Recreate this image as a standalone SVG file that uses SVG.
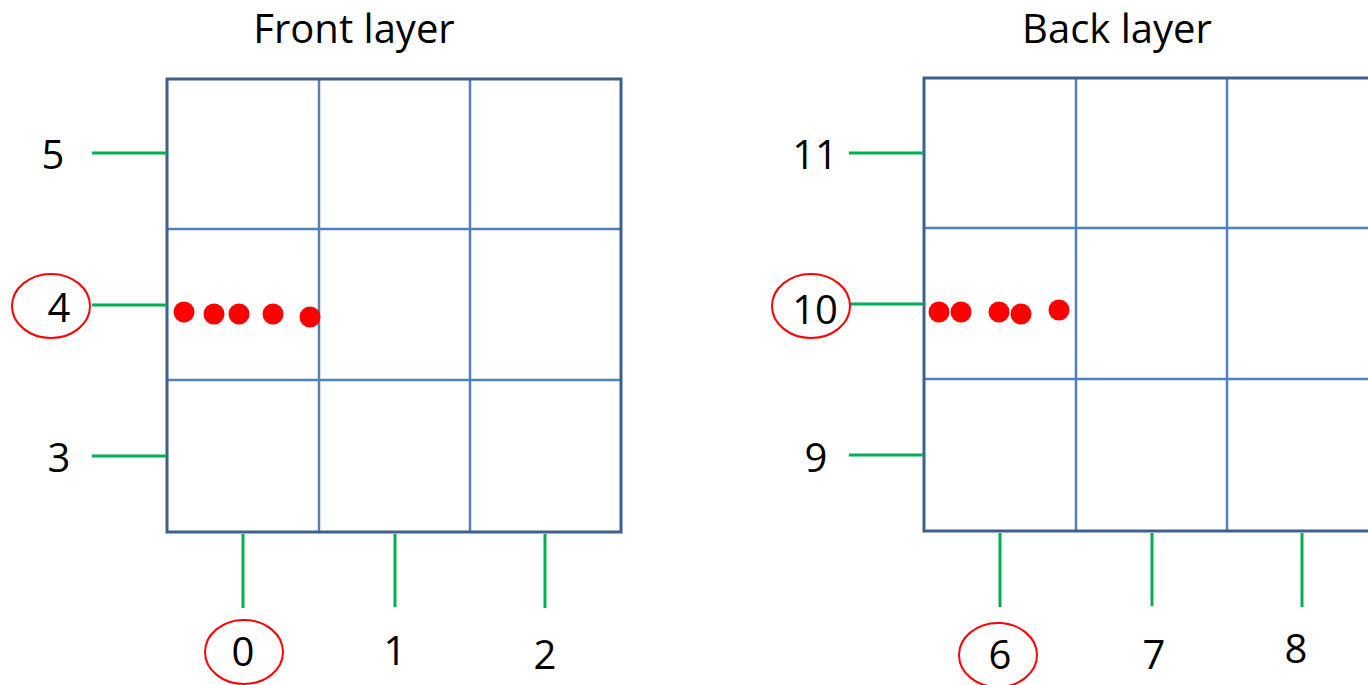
<svg xmlns="http://www.w3.org/2000/svg" width="1368" height="685" viewBox="0 0 1368 685">
<style>
.t{font-family:"Open Sans","Noto Sans",sans-serif;font-size:40px;fill:#000;text-anchor:middle}
.outer{fill:none;stroke:#3f5f8f;stroke-width:3}
.inner{stroke:#4f81bd;stroke-width:2.5}
.tick{stroke:#00b050;stroke-width:3}
.ring{fill:none;stroke:#ff0000;stroke-width:2}
.dot{fill:#ff0000}
</style>
<rect width="1368" height="685" fill="#fff"/>
<g id="front">
<text class="t" x="354" y="43">Front layer</text>
<line class="inner" x1="319" y1="79" x2="319" y2="532"/>
<line class="inner" x1="470" y1="79" x2="470" y2="532"/>
<line class="inner" x1="167" y1="229" x2="621" y2="229"/>
<line class="inner" x1="167" y1="380" x2="621" y2="380"/>
<rect class="outer" x="167" y="79" width="454" height="453"/>
</g>
<g id="back">
<text class="t" x="1117" y="43">Back layer</text>
<line class="inner" x1="1076" y1="78" x2="1076" y2="531"/>
<line class="inner" x1="1227" y1="78" x2="1227" y2="531"/>
<line class="inner" x1="924" y1="228" x2="1378" y2="228"/>
<line class="inner" x1="924" y1="379" x2="1378" y2="379"/>
<rect class="outer" x="924" y="78" width="454" height="453"/>
</g>
<g id="connectors">
<line class="tick" x1="92" y1="153" x2="167" y2="153"/>
<line class="tick" x1="92" y1="305" x2="167" y2="305"/>
<line class="tick" x1="92" y1="456" x2="167" y2="456"/>
<line class="tick" x1="243" y1="534" x2="243" y2="608"/>
<line class="tick" x1="395" y1="534" x2="395" y2="607"/>
<line class="tick" x1="545" y1="534" x2="545" y2="608"/>
<line class="tick" x1="849" y1="153" x2="924" y2="153"/>
<line class="tick" x1="849" y1="304" x2="924" y2="304"/>
<line class="tick" x1="849" y1="455" x2="924" y2="455"/>
<line class="tick" x1="1000" y1="533" x2="1000" y2="607"/>
<line class="tick" x1="1152" y1="533" x2="1152" y2="606"/>
<line class="tick" x1="1302" y1="533" x2="1302" y2="607"/>
</g>
<g id="labels-front">
<text class="t" x="53" y="169">5</text>
<text class="t" x="59" y="322">4</text>
<ellipse class="ring" cx="51" cy="306" rx="39" ry="32"/>
<text class="t" x="59" y="472">3</text>
<text class="t" x="243" y="666">0</text>
<ellipse class="ring" cx="244" cy="652" rx="39" ry="32"/>
<text class="t" x="395" y="665">1</text>
<text class="t" x="545" y="669">2</text>
</g>
<g id="labels-back">
<text class="t" x="815" y="169">11</text>
<text class="t" x="815" y="324">10</text>
<ellipse class="ring" cx="811" cy="306" rx="39" ry="32"/>
<text class="t" x="816" y="472">9</text>
<text class="t" x="1000" y="669">6</text>
<ellipse class="ring" cx="998" cy="655" rx="39" ry="32"/>
<text class="t" x="1154" y="669">7</text>
<text class="t" x="1296" y="663">8</text>
</g>
<g id="dots-front">
<circle class="dot" cx="184" cy="312" r="10.5"/>
<circle class="dot" cx="214" cy="314" r="10.5"/>
<circle class="dot" cx="239" cy="314" r="10.5"/>
<circle class="dot" cx="273" cy="314" r="10.5"/>
<circle class="dot" cx="310" cy="317" r="10.5"/>
</g>
<g id="dots-back">
<circle class="dot" cx="939" cy="312" r="10.5"/>
<circle class="dot" cx="961" cy="312" r="10.5"/>
<circle class="dot" cx="999" cy="312" r="10.5"/>
<circle class="dot" cx="1021" cy="314" r="10.5"/>
<circle class="dot" cx="1059" cy="310" r="10.5"/>
</g>
</svg>
